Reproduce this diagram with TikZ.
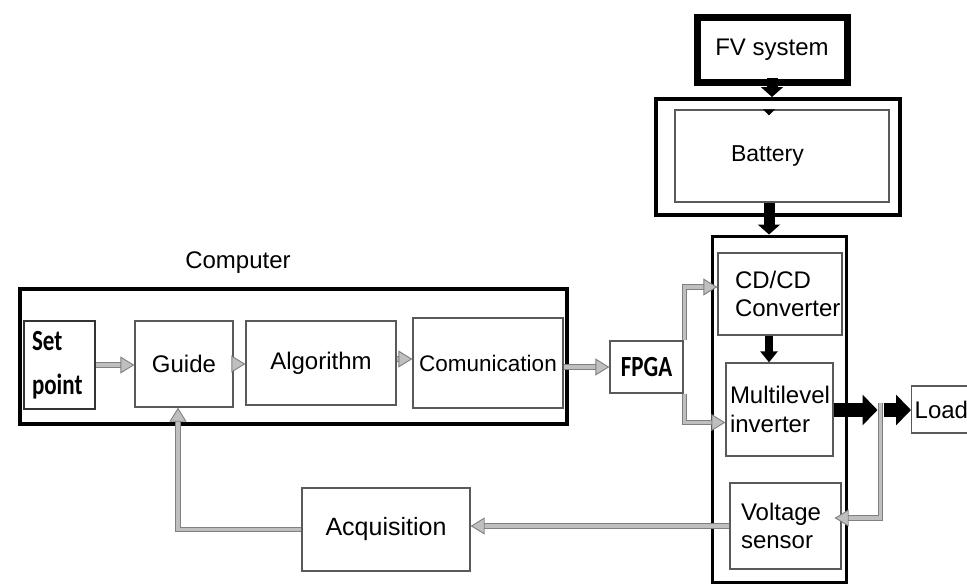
\documentclass[tikz,border=0pt]{standalone}
\usepackage{fontspec}
\setmainfont{Liberation Sans}
\newfontfamily\calbfont{Carlito}[BoldFont={* Bold}]
\usetikzlibrary{arrows.meta,calc}
\begin{document}
\begin{tikzpicture}[x=1pt,y=-1pt,
  every node/.style={font=\fontsize{24}{28.5}\selectfont, inner sep=0pt},
  graybox/.style={draw=black!65, line width=1.3pt, rectangle},
  blkbox/.style={draw=black, rectangle},
  lbox/.style 2 args={align=left, text width=#1, inner xsep=#2},
  grayarrow/.style={draw=black!50, line width=1.1pt, double=black!25, double distance=3.2pt,
    -{Triangle[length=14pt,width=17pt,fill=black!25,line width=0.9pt]}},
  midarr/.style={line width=11pt, -{Triangle[length=10pt,width=22pt]}},
  smallarr/.style={line width=8pt, -{Triangle[length=11pt,width=17pt]}},
  thickarr/.style={line width=14pt, -{Triangle[length=15pt,width=30pt]}},
]
\useasboundingbox (0,0) rectangle (967,584);
\fill[white] (0,0) rectangle (967,584);
\clip (0,0) rectangle (967,584);

% ---- right column ----
\node[blkbox, line width=7pt, minimum width=150pt, minimum height=65pt] (fv) at (772,50) {FV system};
\node[blkbox, line width=4pt, minimum width=244pt, minimum height=116pt] (batout) at (778,157) {};
\node[graybox, line width=1.1pt, minimum width=214pt, minimum height=92pt, lbox={102pt}{56pt},
      font=\fontsize{23}{28}\selectfont] (batin) at (782,156) {Battery};
\node[blkbox, line width=3pt, minimum width=134pt, minimum height=346pt] (col) at (779.5,409) {};
\node[graybox, minimum width=124pt, minimum height=82pt, lbox={90pt}{17pt}] (conv) at (780,294) {CD/CD\\Converter};
\node[graybox, minimum width=107pt, minimum height=93pt, lbox={99pt}{4pt}] (multi) at (779.5,409.5) {Multilevel\\inverter};
\node[graybox, minimum width=111pt, minimum height=86pt, lbox={89pt}{11pt}] (volt) at (785.5,526) {Voltage\\sensor};
\node[graybox, anchor=west, minimum width=80pt, minimum height=47pt, lbox={74pt}{3pt}] (load) at (911,409.5) {Load};
\node[graybox, minimum width=73pt, minimum height=52pt,
      font=\calbfont\bfseries\fontsize{23}{28}\selectfont] (fpga) at (646.5,367) {\scalebox{1}[1.27]{FPGA}};

% ---- computer ----
\node (complabel) at (238,263) {Computer};
\node[blkbox, line width=4pt, minimum width=547pt, minimum height=135pt] (comp) at (293.5,356.5) {};
\node[draw=black!80, line width=1.3pt, minimum width=71pt, minimum height=88pt, lbox={55pt}{8pt},
      font=\calbfont\bfseries\fontsize{23}{44}\selectfont] (setp) at (59.5,365)
      {\scalebox{1}[1.27]{Set}\\\scalebox{1}[1.27]{point}};
\node[graybox, minimum width=98pt, minimum height=86pt] (guide) at (184,364) {Guide};
\node[graybox, minimum width=150pt, minimum height=84pt] (algo) at (321,363) {Algorithm};
\node[graybox, minimum width=150pt, minimum height=90pt, font=\fontsize{22.5}{26}\selectfont] (comm) at (488,363) {Comunication};
\node[graybox, minimum width=168pt, minimum height=83pt, font=\fontsize{25}{29}\selectfont] (acq) at (386,529.5) {Acquisition};

% ---- black power arrows ----
\draw[midarr] ([yshift=8pt]fv.south) -- (fv.south |- batout.north);
\fill ([xshift=-19pt]batin.north) -- ([xshift=-7pt]batin.north) -- ([xshift=-13pt,yshift=-6pt]batin.north) -- cycle;
\draw[midarr] ([xshift=-13pt]batin.south) -- ([xshift=-13pt]batin.south |- col.north);
\draw[smallarr] ([xshift=-11pt]conv.south) -- ([xshift=-11pt]conv.south |- multi.north);
\coordinate (j) at (880.5,410);
\draw[thickarr, shorten >=3pt] (multi.east |- j) -- (j);
\draw[thickarr, shorten <=3pt] (j) -- (load.west |- j);

% ---- gray signal arrows ----
\draw[grayarrow] (setp.east) -- (setp.east -| guide.west);
\draw[grayarrow] (guide.east) -- (guide.east -| algo.west);
\draw[grayarrow] ([yshift=4pt]algo.east) -- ([yshift=4pt]algo.east -| comm.west);
\draw[grayarrow] (fpga.west -| comm.east) -- (fpga.west);
\draw[grayarrow] ([xshift=1pt]fpga.north east) |- ([yshift=7pt]conv.west);
\draw[grayarrow] ([xshift=1pt]fpga.south east) |- ([yshift=-13pt]multi.west);
\draw[grayarrow, shorten >=-7pt] ([yshift=7pt]j) |- ([yshift=8pt]volt.east);
\draw[grayarrow] (volt.west) -- (volt.west -| acq.east);
\draw[grayarrow] (acq.west) -| ([xshift=-6pt]guide.south);
\end{tikzpicture}
\end{document}
